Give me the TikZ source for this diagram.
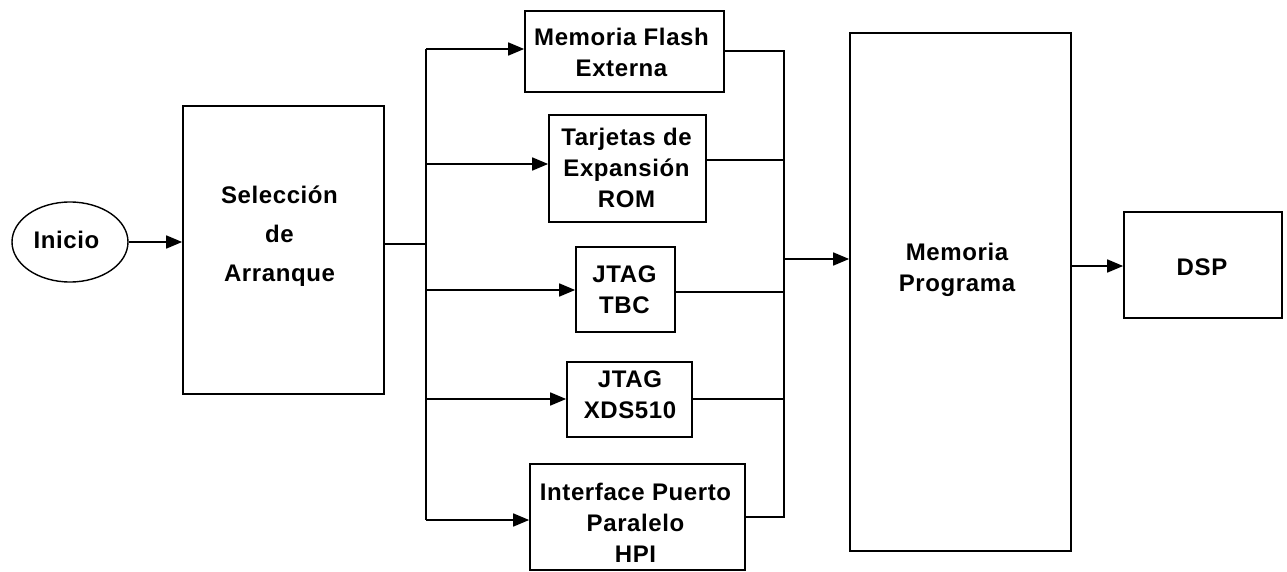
\documentclass[tikz,border=0pt]{standalone}
\usepackage{fontspec}
\setmainfont{Liberation Sans}[LetterSpace=2.5]
\usetikzlibrary{arrows.meta,shapes.geometric}
\begin{document}
\begin{tikzpicture}[x=1pt,y=-1pt,
  line width=1.7pt,
  box/.style={draw=black,line width=1.7pt,inner sep=0pt,fill=none},
  txt/.style={align=center,inner sep=0pt,font=\bfseries\fontsize{24}{31}\selectfont},
  arr/.style={-{Triangle[length=16pt,width=13pt]}}]
\useasboundingbox (0,0) rectangle (1287,572);
% boxes
\node[box,ellipse,line width=1.4pt,minimum width=116pt,minimum height=80pt] (inicio) at (70,242) {};
\node[box,minimum width=201pt,minimum height=288pt] (sel) at (283.5,250) {};
\node[box,minimum width=199pt,minimum height=81pt] (flash) at (624.5,51.5) {};
\node[box,minimum width=157pt,minimum height=107pt] (tarj) at (627.5,168.5) {};
\node[box,minimum width=99pt,minimum height=85pt] (tbc) at (625.5,289.5) {};
\node[box,minimum width=125pt,minimum height=75pt] (xds) at (629.5,399.5) {};
\node[box,minimum width=215pt,minimum height=106pt] (hpi) at (637.5,517) {};
\node[box,minimum width=221pt,minimum height=518pt] (mem) at (960.5,292) {};
\node[box,minimum width=158pt,minimum height=106pt] (dsp) at (1203,265) {};
% texts
\node[txt] (t-inicio) at (66.5,240) {Inicio};
\node[txt,font=\bfseries\fontsize{24}{39}\selectfont] (t-sel) at (279.5,236) {Selección\\de\\Arranque};
\node[txt] (t-flash) at (621.5,52) {Memoria Flash\\Externa};
\node[txt] (t-tarj) at (626.5,168) {Tarjetas de\\Expansión\\ROM};
\node[txt] (t-tbc) at (624.5,290) {JTAG\\TBC};
\node[txt] (t-xds) at (630,395) {JTAG\\XDS510};
\node[txt] (t-hpi) at (635.5,523) {Interface Puerto\\Paralelo\\HPI};
\node[txt] (t-mem) at (957,270) {Memoria\\Programa};
\node[txt] (t-dsp) at (1202,267) {DSP};
% connectors
\draw[arr] (inicio.east) -- (sel.west |- inicio.east);
\coordinate (jL) at (426,244);
\draw (sel.east |- jL) -- (jL);
\coordinate (b1) at (426,49);
\coordinate (b2) at (426,164);
\coordinate (b3) at (426,290);
\coordinate (b4) at (426,399);
\coordinate (b5) at (426,520);
\draw (b1) -- (b5);
\draw[arr] (b1) -- (b1 -| flash.west);
\draw[arr] (b2) -- (b2 -| tarj.west);
\draw[arr] (b3) -- (b3 -| tbc.west);
\draw[arr] (b4) -- (b4 -| xds.west);
\draw[arr] (b5) -- (b5 -| hpi.west);
\coordinate (o1) at (784,51);
\coordinate (o2) at (784,160);
\coordinate (o3) at (784,292);
\coordinate (o4) at (784,399);
\coordinate (o5) at (784,517);
\draw (flash.east |- o1) -- (o1) -- (o5) -- (hpi.east |- o5);
\draw (tarj.east |- o2) -- (o2);
\draw (tbc.east |- o3) -- (o3);
\draw (xds.east |- o4) -- (o4);
\coordinate (oM) at (784,259);
\draw[arr] (oM) -- (oM -| mem.west);
\coordinate (oD) at (1071,266);
\draw[arr] (mem.east |- oD) -- (dsp.west |- oD);
\end{tikzpicture}
\end{document}
